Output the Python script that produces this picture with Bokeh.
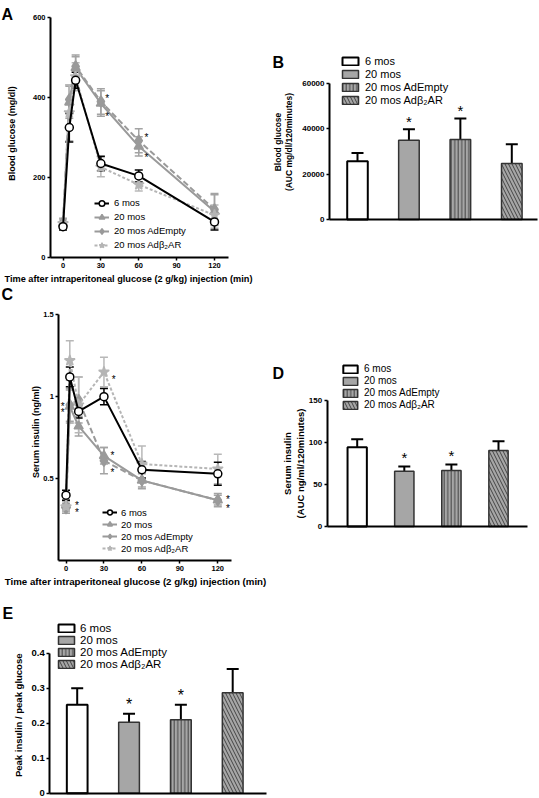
import numpy as np
from bokeh.plotting import figure
from bokeh.models import (ColumnDataSource, Whisker, TeeHead, Legend, LegendItem,
                          Label, FixedTicker, Range1d)
from bokeh.layouts import column, row
from bokeh.embed import file_html
from bokeh.resources import INLINE
from bokeh.core.properties import value

FONT = "Liberation Sans"

# ---------------- data ----------------
groups = ["6 mos", "20 mos", "20 mos AdEmpty", "20 mos Adβ₂AR"]

# Panel A: blood glucose (mg/dl) during IPGTT
time_a = [0, 5, 10, 30, 60, 120]
glu_6 = [77, 325, 443, 235, 204, 89]
glu_6_err = [8, 36, 20, 18, 15, 20]
glu_20 = [85, 388, 474, 385, 278, 115]
glu_20_err = [10, 40, 28, 32, 24, 42]
glu_empty = [88, 395, 478, 390, 292, 120]
glu_empty_err = [10, 36, 28, 32, 30, 40]
glu_b2 = [85, 362, 452, 226, 182, 106]
glu_b2_err = [10, 70, 35, 24, 16, 25]
ast_a_t = [35, 35, 66, 66]
ast_a_y = [402, 357, 306, 254]

# Panel C: serum insulin (ng/ml)
time_c = [0, 3, 10, 30, 60, 120]
ins_6 = [0.40, 1.12, 0.91, 1.00, 0.555, 0.53]
ins_6_err = [0.03, 0.06, 0.04, 0.05, 0.05, 0.07]
ins_20 = [0.34, 0.94, 0.82, 0.64, 0.49, 0.37]
ins_20_err = [0.03, 0.10, 0.06, 0.05, 0.04, 0.03]
ins_empty = [0.32, 0.95, 0.98, 0.61, 0.49, 0.37]
ins_empty_err = [0.03, 0.10, 0.14, 0.08, 0.05, 0.04]
ins_b2 = [0.33, 1.22, 0.95, 1.15, 0.59, 0.56]
ins_b2_err = [0.03, 0.12, 0.17, 0.09, 0.11, 0.09]
ast_c_t = [-2.6, -2.6, 8.7, 8.7, 37.8, 36.8, 36.8, 128, 128]
ast_c_y = [0.952, 0.916, 0.348, 0.307, 1.114, 0.652, 0.55, 0.388, 0.332]

# Panel B: glucose AUC
auc_glu = [25600, 34900, 35200, 24600]
auc_glu_err = [3700, 4800, 9300, 8500]
# Panel D: insulin AUC
auc_ins = [94.4, 65.9, 66.7, 90.5]
auc_ins_err = [9.6, 5.5, 7.1, 11.0]
# Panel E: peak insulin / peak glucose
ratio = [0.253, 0.203, 0.210, 0.287]
ratio_err = [0.047, 0.024, 0.043, 0.068]
significant = [False, True, True, False]

# ---------------- styles ----------------
BAR_FILL = ["white", "#a6a6a6", "#a6a6a6", "#a6a6a6"]
BAR_LINE = ["black", "#333333", "#333333", "#333333"]
BAR_LW = [2, 1.5, 1.5, 1.5]
BAR_HATCH = [" ", " ", "vertical_line", "left_diagonal_line"]
BAR_HSCALE = [4, 4, 3.5, 7]

GREY = "#9a9a9a"
LIGHT = "#b5b5b5"
# label, marker, line color, dash, marker size, fill, outline, errcolor
STYLES = [
    ("20 mos", "triangle", GREY, "solid", 9, GREY, GREY, "#a3a3a3"),
    ("20 mos AdEmpty", "diamond", GREY, "6 3", 11, GREY, GREY, "#a3a3a3"),
    ("20 mos Adβ₂AR", "star", LIGHT, "3 2", 11, LIGHT, LIGHT, "#b8b8b8"),
    ("6 mos", "circle", "black", "solid", 8, "white", "black", "black"),
]


def span(p0, v0, p1, v1, size):
    """Range over a canvas of `size` px given two pixel anchors (pixels from left/top)."""
    a = (v1 - v0) / (p1 - p0)
    ends = (v0 - p0 * a, v0 + (size - p0) * a)
    return (min(ends), max(ends)), (lambda px: v0 + (px - p0) * a)


def make_fig(W, H, xspec, yspec):
    (xr, fx) = span(*xspec, W)
    (yr, fy) = span(*yspec, H)
    p = figure(width=W, height=H, x_range=Range1d(*xr), y_range=Range1d(*yr),
               output_backend="svg", toolbar_location=None, title=None,
               min_border_left=0, min_border_right=0, min_border_top=0,
               min_border_bottom=0)
    p.xgrid.visible = False
    p.ygrid.visible = False
    p.outline_line_color = None
    p.background_fill_color = "white"
    p.border_fill_color = "white"
    return p, fx, fy


def style_axes(p, fx, y_axis_px, x_end_px, y_top, tick_font, x_ticks, y_ticks):
    for ax in p.axis:
        ax.axis_line_width = 2
        ax.axis_line_color = "black"
        ax.major_tick_line_width = 1.5
        ax.major_tick_out = 3
        ax.major_tick_in = 0
        ax.minor_tick_line_color = None
        ax.major_label_text_font = FONT
        ax.major_label_text_font_style = "bold"
        ax.major_label_text_font_size = tick_font
        ax.major_label_text_color = "black"
        ax.major_label_standoff = 2
    p.yaxis.fixed_location = fx(y_axis_px)
    p.yaxis.bounds = (0, y_top)
    p.yaxis.ticker = FixedTicker(ticks=y_ticks)
    p.xaxis.fixed_location = 0
    p.xaxis.bounds = (fx(y_axis_px), fx(x_end_px))
    p.xaxis.ticker = FixedTicker(ticks=x_ticks)


def label(p, text, x, y, size, bold=True, angle=0.0, align="center", baseline="middle"):
    p.add_layout(Label(x=x, y=y, x_units="screen", y_units="screen", text=text,
                       text_font=FONT, text_font_size=size,
                       text_font_style="bold" if bold else "normal",
                       angle=angle, text_align=align, text_baseline=baseline,
                       text_color="black"))


def line_panel(p, t, series, legend_xy, legend_font, gh, standoff):
    items = {}
    for (lab, marker, color, dash, msize, fill, outline, ecol), (vals, errs) in zip(STYLES, series):
        up = [v + e for v, e in zip(vals, errs)]
        lo = [v - e for v, e in zip(vals, errs)]
        src = ColumnDataSource(dict(t=t, y=vals, up=up, lo=lo))
        p.add_layout(Whisker(source=src, base="t", upper="up", lower="lo",
                             line_color=ecol, line_width=1.5,
                             upper_head=TeeHead(size=8, line_color=ecol, line_width=1.5),
                             lower_head=TeeHead(size=8, line_color=ecol, line_width=1.5)))
        lr = p.line("t", "y", source=src, line_color=color, line_width=2, line_dash=dash)
        sr = p.scatter("t", "y", source=src, marker=marker, size=msize,
                       fill_color=fill, line_color=outline, line_width=1.5)
        items[lab] = LegendItem(label=lab, renderers=[lr, sr])
    leg = Legend(items=[items[g] for g in groups], location=legend_xy,
                 label_text_font=FONT, label_text_font_size=legend_font,
                 label_text_color="black",
                 glyph_width=15, glyph_height=gh, label_height=gh,
                 spacing=0, padding=0, margin=0, label_standoff=standoff,
                 border_line_color=None, background_fill_alpha=0)
    p.add_layout(leg)


def bar_panel(p, vals, errs, width, legend_xy, legend_font, spacing, glyph_w,
              standoff, ast_size, ast_off):
    x = [1, 2, 3, 4]
    up = [v + e for v, e in zip(vals, errs)]
    src = ColumnDataSource(dict(x=x, top=vals, up=up, fill=BAR_FILL, lc=BAR_LINE,
                                lw=BAR_LW, hatch=BAR_HATCH, hs=BAR_HSCALE))
    r = p.vbar(x="x", top="top", bottom=0, width=width, source=src, fill_color="fill",
               line_color="lc", line_width="lw", hatch_pattern="hatch",
               hatch_scale="hs", hatch_color="#444444", hatch_weight=1)
    p.add_layout(Whisker(source=src, base="x", upper="up", lower="top",
                         line_color="black", line_width=2, lower_head=None,
                         upper_head=TeeHead(size=12, line_color="black", line_width=2)))
    sx = [xi for xi, s in zip(x, significant) if s]
    sy = [u for u, s in zip(up, significant) if s]
    p.text(x=sx, y=sy, text=["*"] * len(sx), text_font=value(FONT),
           text_font_size=ast_size, text_align="center", text_baseline="middle",
           y_offset=ast_off, text_color="black")
    leg = Legend(items=[LegendItem(label=g, renderers=[r], index=i) for i, g in enumerate(groups)],
                 location=legend_xy, label_text_font=FONT, label_text_font_size=legend_font,
                 label_text_color="black",
                 glyph_width=glyph_w, glyph_height=10, label_height=10, spacing=spacing,
                 padding=0, margin=0, label_standoff=standoff,
                 border_line_color=None, background_fill_alpha=0)
    p.add_layout(leg)


XTITLE = "Time after intraperitoneal glucose (2 g/kg) injection (min)"
ROT = np.pi / 2

# ---------------- Panel A (canvas 270 x 284) ----------------
W, H = 270, 284
pA, fx, fy = make_fig(W, H, (62.5, 0, 214, 120), (257, 0, 17, 600))
line_panel(pA, time_a, [(glu_20, glu_20_err), (glu_empty, glu_empty_err),
                        (glu_b2, glu_b2_err), (glu_6, glu_6_err)],
           (94, H - 251.5), "9.5px", 14, 5)
pA.text(x=ast_a_t, y=ast_a_y, text=["*"] * len(ast_a_t), text_font=value(FONT),
        text_font_size="10px", text_align="center", text_baseline="middle", y_offset=2,
        text_color="black")
style_axes(pA, fx, 50, 228.3, 600, "7.5px", [0, 30, 60, 90, 120], [0, 200, 400, 600])
label(pA, "A", 1, H - 14, "16px", align="left", baseline="alphabetic")
label(pA, "Blood glucose (mg/dl)", 11, H - 133, "9px", angle=ROT)
label(pA, XTITLE, 128, H - 278, "9.2px")

# ---------------- Panel B (canvas 268 x 284, origin x=270) ----------------
W, H = 268, 284
pB, fx, fy = make_fig(W, H, (87, 1, 241.3, 4), (219, 0, 82.7, 60000))
bar_panel(pB, auc_glu, auc_glu_err, 0.4, (70, H - 106), "11px", 1, 20, 5, "15px", -8)
style_axes(pB, fx, 59, 267, 60000, "8px", [], [0, 20000, 40000, 60000])
label(pB, "B", 2, H - 61.7, "16px", align="left", baseline="alphabetic")
label(pB, "Blood glucose", 7.5, H - 141.5, "8.5px", angle=ROT)
label(pB, "(AUC mg/dl/120minutes)", 18.5, H - 141.5, "8.5px", angle=ROT)

# ---------------- Panel C (canvas 270 x 306, origin y=284) ----------------
W, H = 270, 306
pC, fx, fy = make_fig(W, H, (65.5, 0, 217.3, 120), (194.3, 0.5, 30, 1.5))
line_panel(pC, time_c, [(ins_20, ins_20_err), (ins_empty, ins_empty_err),
                        (ins_b2, ins_b2_err), (ins_6, ins_6_err)],
           (102, H - 270.3), "9.5px", 12, 4)
pC.text(x=ast_c_t, y=ast_c_y, text=["*"] * len(ast_c_t), text_font=value(FONT),
        text_font_size="10px", text_align="center", text_baseline="middle", y_offset=2,
        text_color="black")
style_axes(pC, fx, 58.3, 231, 1.5, "7.5px", [0, 30, 60, 90, 120], [0.5, 1.0, 1.5])
label(pC, "C", 1, H - 10, "16px", align="left", baseline="alphabetic")
label(pC, "Serum insulin (ng/ml)", 35, H - 147.5, "9px", angle=ROT)
label(pC, XTITLE, 135, H - 297, "9.7px")

# ---------------- Panel D (canvas 268 x 306, origin 270, 284) ----------------
W, H = 268, 306
pD, fx, fy = make_fig(W, H, (86.7, 1, 228, 4), (242, 0, 116, 150))
bar_panel(pD, auc_ins, auc_ins_err, 0.41, (71, H - 126.3), "10px", 1, 18, 5, "15px", -9)
style_axes(pD, fx, 56.7, 256.7, 150, "8px", [], [0, 50, 100, 150])
label(pD, "D", 2, H - 88.7, "16px", align="left", baseline="alphabetic")
label(pD, "Serum insulin", 17, H - 179, "9.5px", angle=ROT)
label(pD, "(AUC ng/ml/120minutes)", 30, H - 179, "9.5px", angle=ROT)

# ---------------- Panel E (canvas 280 x 207, origin y=590) ----------------
W, H = 280, 207
pE, fx, fy = make_fig(W, H, (76.7, 1, 232.2, 4), (202.7, 0, 62.7, 0.4))
bar_panel(pE, ratio, ratio_err, 0.4, (56, H - 80), "11.5px", -1, 20, 4, "16px", -9)
style_axes(pE, fx, 49.3, 266, 0.4, "9.5px", [], [0.0, 0.1, 0.2, 0.3, 0.4])
label(pE, "E", 2, H - 23, "16px", align="left", baseline="alphabetic")
label(pE, "Peak insulin / peak glucose", 17.5, H - 124.8, "9.5px", angle=ROT)

layout = column(row(pA, pB), row(pC, pD), pE)
open("out.html", "w").write(file_html(layout, INLINE))
